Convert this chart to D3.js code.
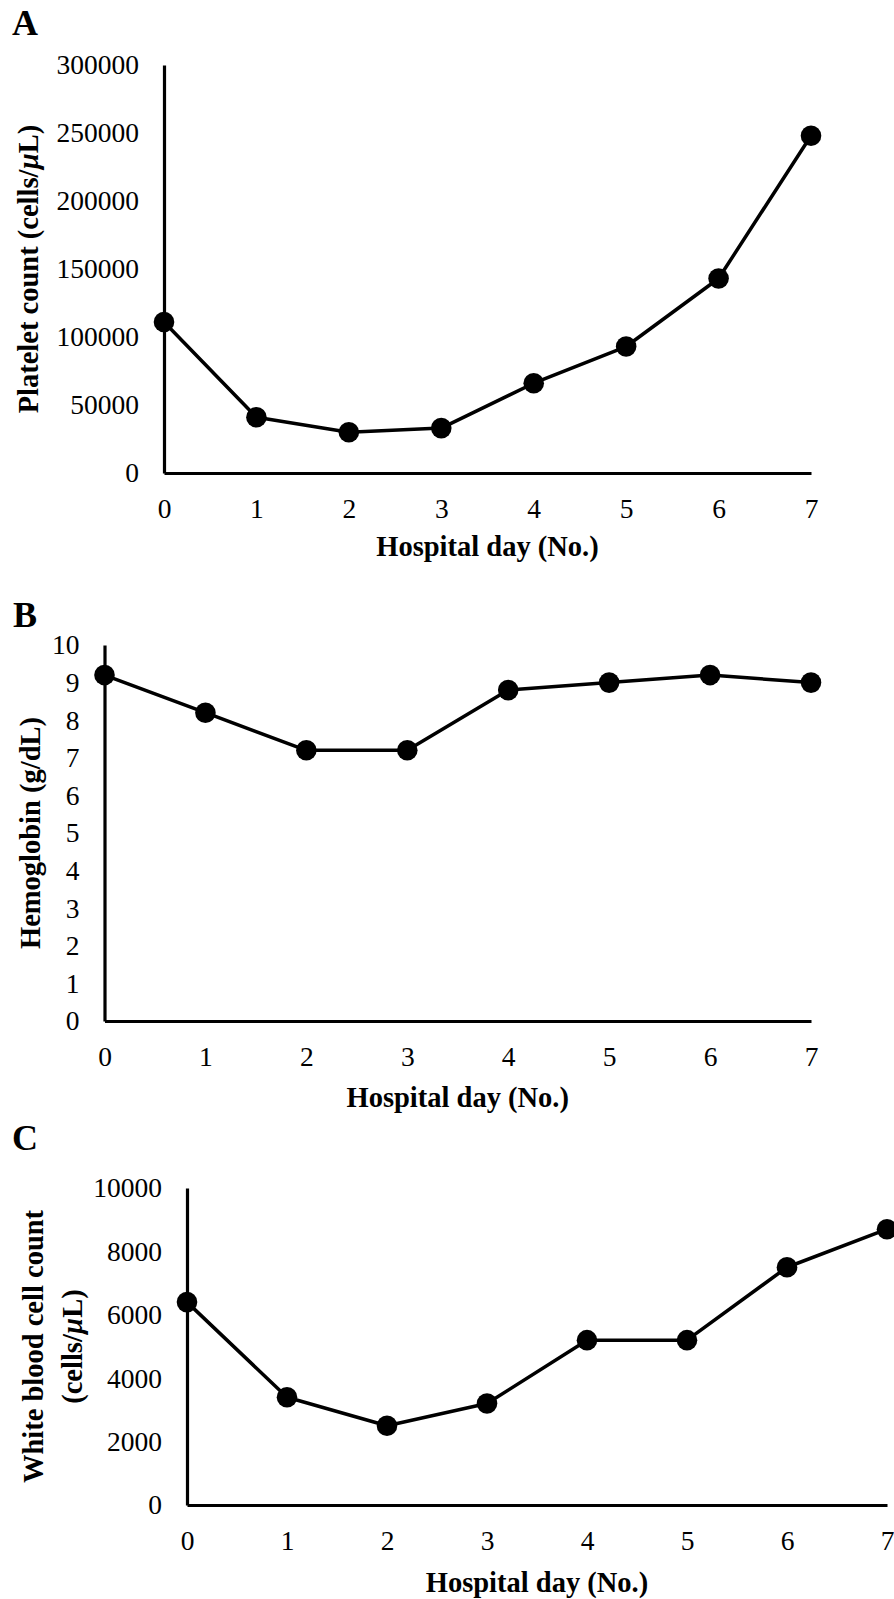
<!DOCTYPE html>
<html>
<head>
<meta charset="utf-8">
<script src="https://cdn.jsdelivr.net/npm/d3@7"></script>
<style>
	body { margin: 0; background: #fff; }
	svg { display: block; }
	text { font-family: "Liberation Serif", "Times New Roman", serif; fill: #000; }
</style>
</head>
<body>
<div id="chart"></div>
<script>
// hospital day on every x axis
var days = [0, 1, 2, 3, 4, 5, 6, 7];

// A: platelets
var platelet = [111000, 41000, 30000, 33000, 66000, 93000, 143000, 248000];
var plateletTicks = [0, 50000, 100000, 150000, 200000, 250000, 300000];

// B: hemoglobin
var hemoglobin = [9.2, 8.2, 7.2, 7.2, 8.8, 9.0, 9.2, 9.0];
var hemoglobinTicks = [0, 1, 2, 3, 4, 5, 6, 7, 8, 9, 10];

// C: white cells
var wbc = [6400, 3400, 2500, 3200, 5200, 5200, 7500, 8700];
var wbcTicks = [0, 2000, 4000, 6000, 8000, 10000];

var W = 894, H = 1599;
var svg = d3.select("#chart").append("svg")
	.attr("width", W)
	.attr("height", H);

function panel(opt) {
	var g = svg.append("g");

	var x = d3.scaleLinear()
		.domain([0, 7])
		.range([opt.left, opt.right]);
	var y = d3.scaleLinear()
		.domain([0, d3.max(opt.ticks)])
		.range([opt.bottom, opt.top]);

	// panel letter
	g.append("text")
		.attr("x", opt.letterX)
		.attr("y", opt.letterY)
		.attr("font-size", 36)
		.attr("font-weight", "bold")
		.text(opt.letter);

	g.append("g")
		.attr("transform", "translate(" + opt.left + ",0)")
		.call(d3.axisLeft(y).tickValues(opt.ticks).tickSize(0).tickSizeOuter(0)
			.tickPadding(25).tickFormat(d3.format("d")));
	g.append("g")
		.attr("transform", "translate(0," + opt.bottom + ")")
		.call(d3.axisBottom(x).tickValues(days).tickSize(0).tickSizeOuter(0)
			.tickPadding(25).tickFormat(d3.format("d")));

	g.selectAll(".domain")
		.attr("stroke", "#000")
		.attr("stroke-width", 3.2);
	g.selectAll(".tick text")
		.attr("font-size", 27.5)
		.attr("font-family", "Liberation Serif")
		.attr("fill", "#000");

	// x title
	g.append("text")
		.attr("x", (opt.left + opt.right) / 2)
		.attr("y", opt.xTitleY)
		.attr("text-anchor", "middle")
		.attr("font-size", 28.5)
		.attr("font-weight", "bold")
		.text("Hospital day (No.)");

	// y title, may have two lines
	var cy = (opt.top + opt.bottom) / 2;
	opt.yTitle.forEach(function(line, i) {
		var t = g.append("text")
			.attr("transform", "translate(" + opt.yTitleX[i] + "," + cy + ") rotate(-90)")
			.attr("text-anchor", "middle")
			.attr("dy", "0.35em")
			.attr("font-size", 28.5)
			.attr("font-weight", "bold");
		line.forEach(function(part) {
			t.append("tspan")
				.attr("font-style", part.italic ? "italic" : null)
				.text(part.s);
		});
	});

	var line = d3.line()
		.x(function(d, i) { return x(days[i]); })
		.y(function(d) { return y(d); });

	g.append("path")
		.datum(opt.values)
		.attr("fill", "none")
		.attr("stroke", "#000")
		.attr("stroke-width", 3.5)
		.attr("stroke-linejoin", "round")
		.attr("d", line);

	g.selectAll(".pt")
		.data(opt.values)
		.enter().append("circle")
			.attr("class", "pt")
			.attr("cx", function(d, i) { return x(days[i]); })
			.attr("cy", function(d) { return y(d); })
			.attr("r", 10.3)
			.attr("fill", "#000");
}

panel({
	letter: "A", letterX: 12, letterY: 35,
	left: 164, right: 811, top: 65, bottom: 473,
	ticks: plateletTicks, values: platelet,
	xTitleY: 556,
	yTitle: [[{s: "Platelet count (cells/"}, {s: "\u00b5", italic: true}, {s: "L)"}]],
	yTitleX: [28]
});

panel({
	letter: "B", letterX: 13, letterY: 627,
	left: 104.5, right: 811, top: 645, bottom: 1021,
	ticks: hemoglobinTicks, values: hemoglobin,
	xTitleY: 1107,
	yTitle: [[{s: "Hemoglobin (g/dL)"}]],
	yTitleX: [30]
});

panel({
	letter: "C", letterX: 12, letterY: 1150,
	left: 187, right: 887, top: 1188, bottom: 1505,
	ticks: wbcTicks, values: wbc,
	xTitleY: 1592,
	yTitle: [[{s: "White blood cell count"}], [{s: "(cells/"}, {s: "\u00b5", italic: true}, {s: "L)"}]],
	yTitleX: [33, 72]
});
</script>
</body>
</html>
